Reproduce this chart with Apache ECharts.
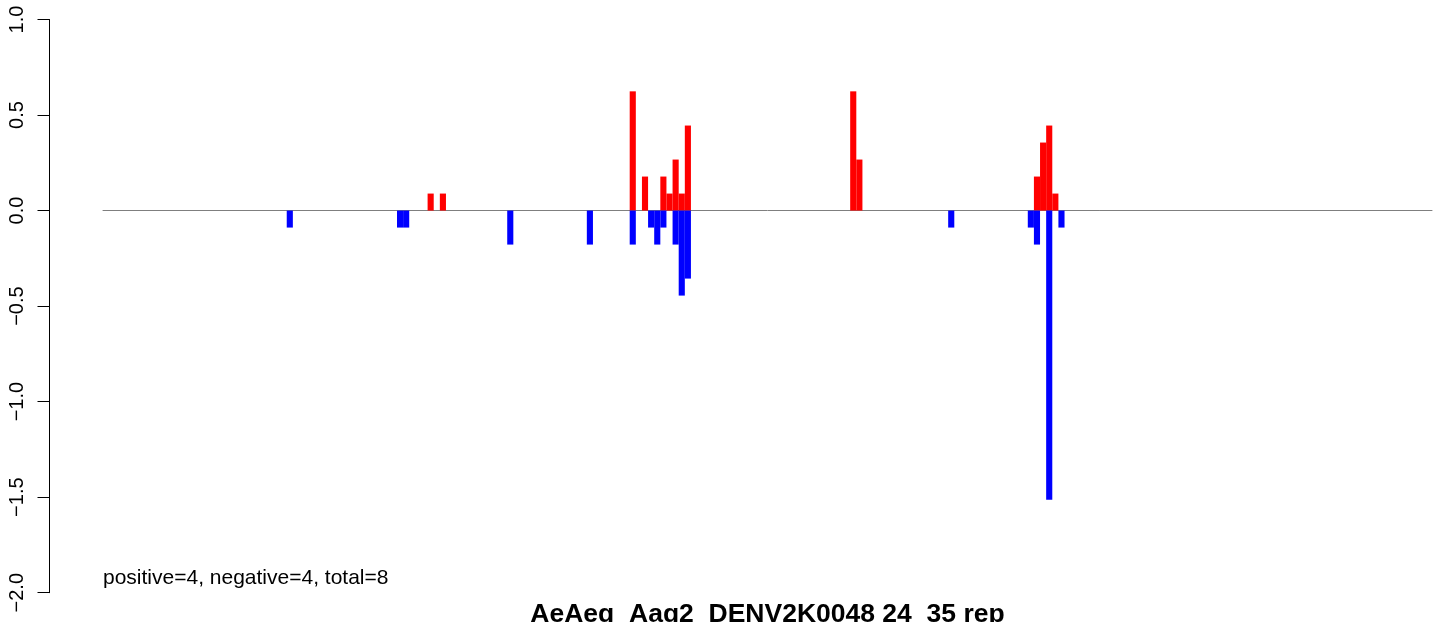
<!DOCTYPE html>
<html>
<head>
<meta charset="utf-8">
<script src="https://cdn.jsdelivr.net/npm/echarts@6/dist/echarts.min.js"></script>
<style>
html,body{margin:0;padding:0;background:#fff;}
#chart{width:1444px;height:622px;}
</style>
</head>
<body>
<div id="chart"></div>
<script>
// Sequence length (number of positions on the x axis)
var seqLength = 217;
// Positive (red) bars: 0-based position index and value
var posIndex = [53, 55, 86, 88, 91, 92, 93, 94, 95, 122, 123, 152, 153, 154, 155];
var posValue = [0.089, 0.089, 0.624, 0.178, 0.178, 0.089, 0.267, 0.089, 0.445, 0.624, 0.267, 0.178, 0.356, 0.445, 0.089];
// Negative (blue) bars
var negIndex = [30, 48, 49, 66, 79, 86, 89, 90, 91, 93, 94, 95, 138, 151, 152, 154, 156];
var negValue = [-0.089, -0.089, -0.089, -0.178, -0.178, -0.178, -0.089, -0.178, -0.089, -0.178, -0.445, -0.356, -0.089, -0.089, -0.178, -1.514, -0.089];
// Y tick labels
var yTicks = [-2, -1.5, -1, -0.5, 0, 0.5, 1];
var titleText = "AeAeg_Aag2_DENV2K0048 24_35 rep";
var noteText = "positive=4, negative=4, total=8";

var categories = [];
var posData = [];
var negData = [];
for (var i = 0; i < seqLength; i++) { categories.push(String(i + 1)); posData.push(null); negData.push(null); }
posIndex.forEach(function (p, k) { posData[p] = posValue[k]; });
negIndex.forEach(function (p, k) { negData[p] = negValue[k]; });

var font = "'Liberation Sans', Arial, Helvetica, sans-serif";
var chart = echarts.init(document.getElementById('chart'), null, {renderer: 'canvas'});
chart.setOption({
  animation: false,
  backgroundColor: '#ffffff',
  grid: {left: 103, right: 12, top: 19.5, bottom: 29.3, containLabel: false},
  xAxis: {
    type: 'category',
    data: categories,
    boundaryGap: true,
    axisLine: {show: true, onZero: true, lineStyle: {color: '#7f7f7f', width: 1}},
    axisTick: {show: false},
    axisLabel: {show: false},
    splitLine: {show: false}
  },
  yAxis: {
    type: 'value',
    min: yTicks[0],
    max: yTicks[yTicks.length - 1],
    interval: 0.5,
    offset: 53.5,
    axisLine: {show: true, lineStyle: {color: '#000', width: 1}},
    axisTick: {show: true, length: 12, lineStyle: {color: '#000', width: 1}},
    axisLabel: {
      show: true, rotate: 90, margin: 22, color: '#000',
      fontFamily: font, fontSize: 20,
      formatter: function (v) { var s = v.toFixed(1); return v < 0 ? s.replace('-', '\u2212') : s; }
    },
    splitLine: {show: false}
  },
  series: [
    {type: 'bar', data: posData, barWidth: '100%', barGap: '-100%', itemStyle: {color: '#ff0000'}, z: 3},
    {type: 'bar', data: negData, barWidth: '100%', barGap: '-100%', itemStyle: {color: '#0000ff'}, z: 3}
  ],
  graphic: [
    {type: 'text', left: 103, top: 568, style: {text: noteText, font: '21px ' + font, fill: '#000'}},
    {type: 'text', x: 767.5, y: 601, style: {text: titleText, font: 'bold 26.5px ' + font, fill: '#000', align: 'center', verticalAlign: 'top'}}
  ]
});
</script>
</body>
</html>
